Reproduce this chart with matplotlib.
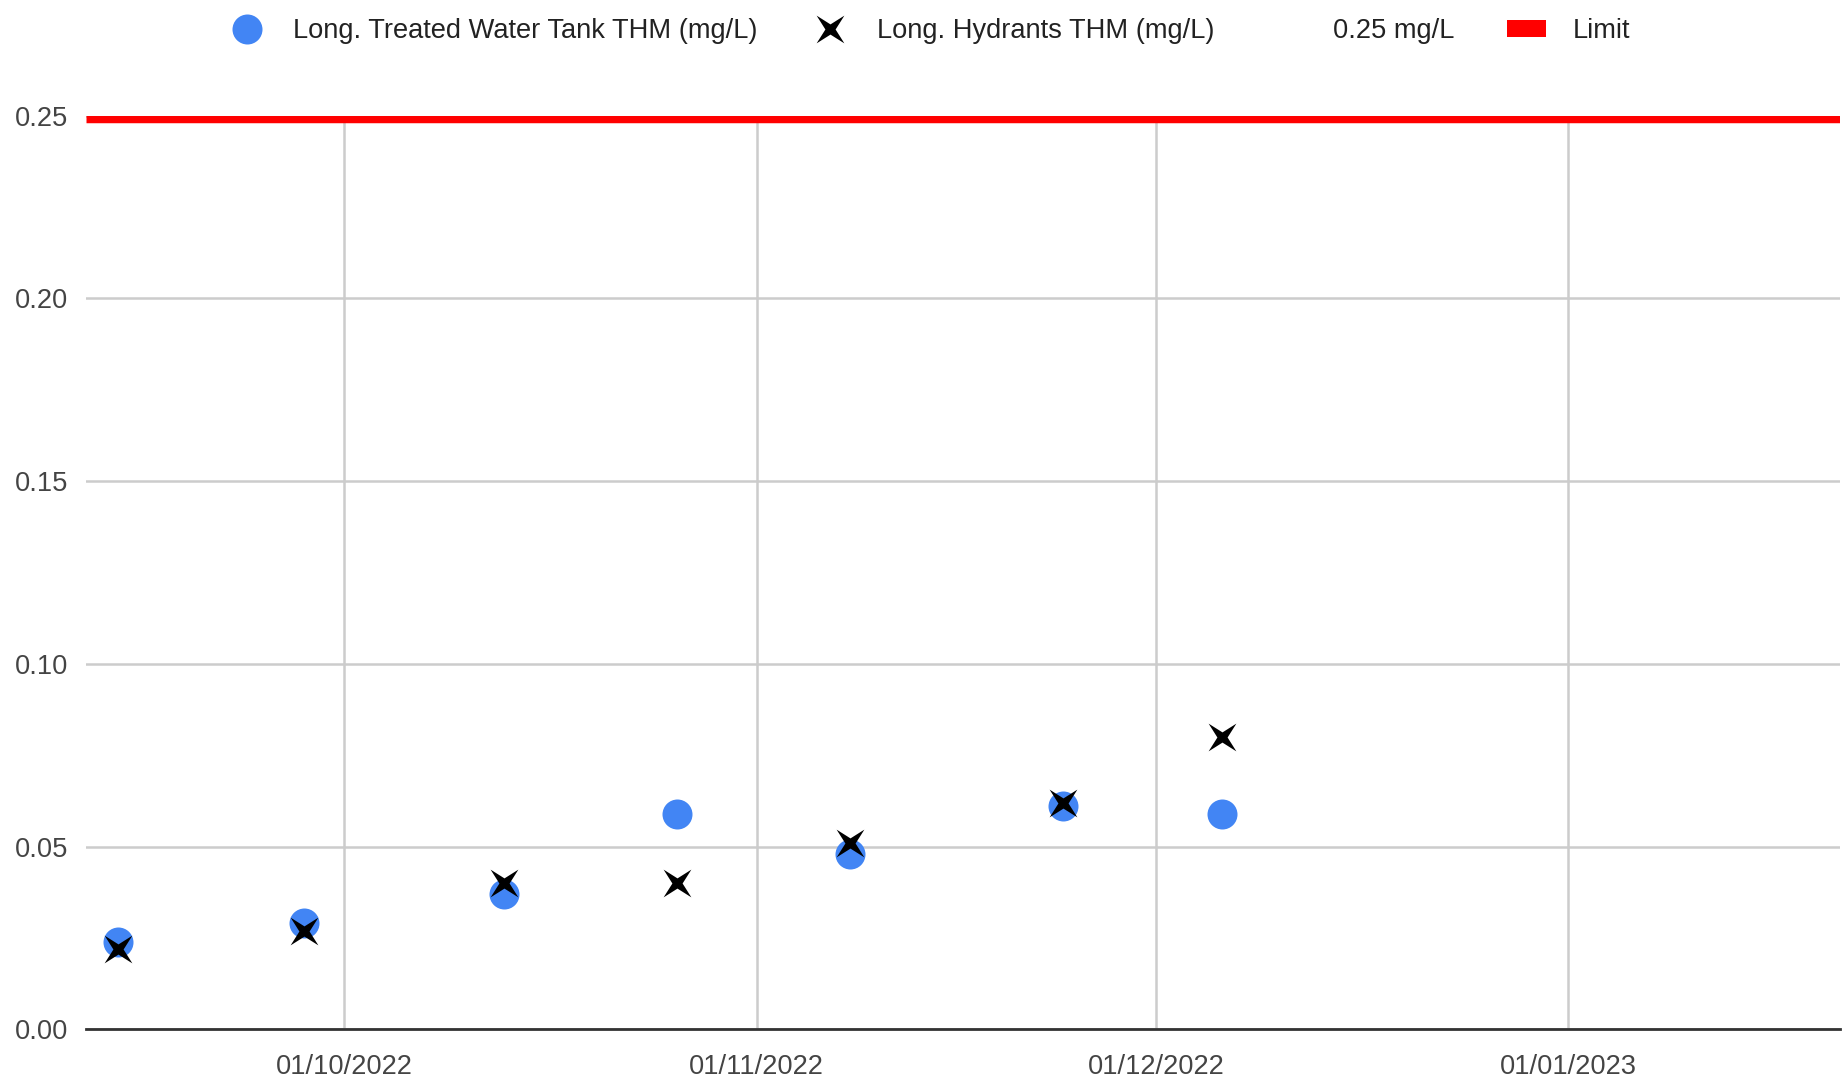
import numpy as np
import matplotlib
matplotlib.use('Agg')
import matplotlib.pyplot as plt
import matplotlib.dates as mdates
from matplotlib.path import Path
from matplotlib.lines import Line2D
from matplotlib.patches import Patch
from datetime import datetime

plt.rcParams['font.family'] = ['Liberation Sans', 'DejaVu Sans']

# 采样日期
dates = ['2022-09-14', '2022-09-28', '2022-10-13', '2022-10-26',
         '2022-11-08', '2022-11-24', '2022-12-06']
tank_thm = [0.024, 0.029, 0.037, 0.059, 0.048, 0.061, 0.059]
hydrant_thm = [0.022, 0.027, 0.040, 0.040, 0.051, 0.062, 0.080]
limit = 0.25
x_ticks = ['2022-10-01', '2022-11-01', '2022-12-01', '2023-01-01']
y_ticks = [0.00, 0.05, 0.10, 0.15, 0.20, 0.25]

d = [datetime.strptime(s, '%Y-%m-%d') for s in dates]
xt = [datetime.strptime(s, '%Y-%m-%d') for s in x_ticks]

# 四角星, 尖角在45度方向 -> 像个 x
ang = np.arange(8) * np.pi / 4 + np.pi / 4
rad = np.where(np.arange(8) % 2 == 0, 1.0, 0.26)
v = np.column_stack([rad * np.cos(ang), rad * np.sin(ang)])
star = Path(np.vstack([v, v[:1]]), [Path.MOVETO] + [Path.LINETO] * 7 + [Path.CLOSEPOLY])

FS = 19.6
fig = plt.figure(figsize=(18.49, 10.87), dpi=100)
ax = fig.add_axes([0.0465, 0.053, 0.9485, 0.8405])

ax.axhline(limit, color='#ff0000', linewidth=9.7, zorder=2, solid_capstyle='butt')
ax.plot(d, tank_thm, linestyle='none', marker='o', markersize=21.6,
        color='#4285f4', markeredgewidth=0, zorder=3)
ax.plot(d, hydrant_thm, linestyle='none', marker=star, markersize=20,
        color='black', markeredgewidth=0, zorder=4)

ax.set_xlim(datetime(2022, 9, 11, 14), datetime(2023, 1, 21, 10))
ax.set_ylim(0, 0.25)
ax.set_xticks(xt)
ax.xaxis.set_major_formatter(mdates.DateFormatter('%d/%m/%Y'))
ax.set_yticks(y_ticks)
ax.yaxis.set_major_formatter(matplotlib.ticker.FormatStrFormatter('%.2f'))
ax.tick_params(length=0, labelsize=FS, colors='#444444')
ax.tick_params(axis='x', pad=18)
ax.tick_params(axis='y', pad=13)
ax.grid(True, color='#cccccc', linewidth=1.8)
ax.set_axisbelow(True)
for sp in ['top', 'right', 'left']:
    ax.spines[sp].set_visible(False)
ax.spines['bottom'].set_color('#333333')
ax.spines['bottom'].set_linewidth(2)
ax.spines['bottom'].set_zorder(5)

handles = [
    Line2D([], [], linestyle='none', marker='o', markersize=21.6,
           color='#4285f4', markeredgewidth=0),
    Line2D([], [], linestyle='none', marker=star, markersize=20,
           color='black', markeredgewidth=0),
    Line2D([], [], linestyle='none'),
    Patch(facecolor='#ff0000'),
]
labels = ['Long. Treated Water Tank THM (mg/L)', 'Long. Hydrants THM (mg/L)',
          '0.25 mg/L', 'Limit']
leg = fig.legend(handles, labels, loc='upper center', bbox_to_anchor=(0.5023, 0.9935),
                 ncol=4, frameon=False, fontsize=FS, handlelength=1.46,
                 handleheight=0.55, columnspacing=1.93, handletextpad=0.97,
                 borderaxespad=0.0)
for t in leg.get_texts():
    t.set_color('#222222')

fig.savefig('out.png', dpi=100)
